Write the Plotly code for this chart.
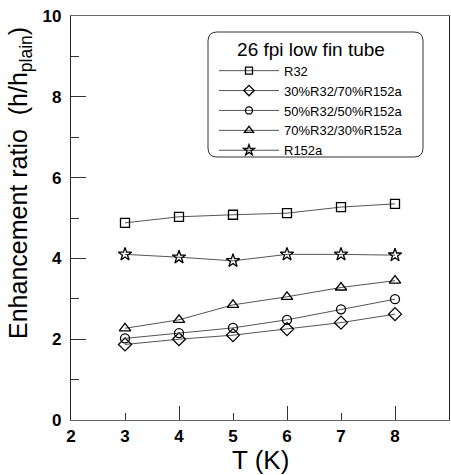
import plotly.graph_objects as go

T = [3, 4, 5, 6, 7, 8]
r32 = [4.88, 5.03, 5.08, 5.12, 5.27, 5.35]
mix_30_70 = [1.87, 2.00, 2.10, 2.25, 2.41, 2.62]
mix_50_50 = [2.02, 2.15, 2.28, 2.48, 2.74, 2.99]
mix_70_30 = [2.27, 2.48, 2.85, 3.05, 3.28, 3.45]
r152a = [4.10, 4.03, 3.94, 4.10, 4.10, 4.08]

x_ticks = [2, 3, 4, 5, 6, 7, 8, 9]
y_ticks = [0, 2, 4, 6, 8, 10]

names = ["R32", "30%R32/70%R152a", "50%R32/50%R152a", "70%R32/30%R152a", "R152a"]
series = [r32, mix_30_70, mix_50_50, mix_70_30, r152a]
symbols = ["square-open", "diamond-open", "circle-open", "triangle-up-open", "star-open"]
sizes = [9, 10, 9, 10, 10]
legend_sizes = [7, 8, 7, 8, 8]

FONT = "Liberation Sans, Arial, sans-serif"

fig = go.Figure()
for n, s, sym, sz in zip(names, series, symbols, sizes):
    fig.add_trace(go.Scatter(
        x=T, y=s, name=n, mode="lines+markers", showlegend=False,
        line=dict(color="#555555", width=1),
        marker=dict(symbol=sym, size=sz, color="black", line=dict(color="black", width=1.3)),
    ))
# legend entries with the smaller legend symbols
for n, sym, sz in zip(names, symbols, legend_sizes):
    fig.add_trace(go.Scatter(
        x=[None], y=[None], name=n, mode="lines+markers",
        line=dict(color="#555555", width=1),
        marker=dict(symbol=sym, size=sz, color="black", line=dict(color="black", width=1.3)),
    ))
# helper trace for the overlay axis carrying the long x ticks
fig.add_trace(go.Scatter(x=[], y=[], xaxis="x2", showlegend=False, hoverinfo="skip"))

W, H = 451, 475
L, R, Tm, B = 71, 2, 16, 55
pw, ph = W - L - R, H - Tm - B

def px(xp):
    return (xp - L) / pw

def py(yp):
    return (H - B - yp) / ph

# rounded legend frame
x0, x1, y0, y1 = px(208), px(423), py(157), py(32)
rx, ry = 9 / pw, 9 / ph
path = (f"M {x0+rx},{y1} L {x1-rx},{y1} Q {x1},{y1} {x1},{y1-ry} "
        f"L {x1},{y0+ry} Q {x1},{y0} {x1-rx},{y0} L {x0+rx},{y0} "
        f"Q {x0},{y0} {x0},{y0+ry} L {x0},{y1-ry} Q {x0},{y1} {x0+rx},{y1} Z")

fig.update_layout(
    width=W, height=H,
    margin=dict(l=L, r=R, t=Tm, b=B),
    plot_bgcolor="white", paper_bgcolor="white",
    font=dict(family=FONT, color="black"),
    showlegend=True,
    legend=dict(
        x=px(214), y=py(31), xanchor="left", yanchor="top",
        bgcolor="rgba(0,0,0,0)", borderwidth=0,
        title=dict(text="26 fpi low fin tube", side="top center",
                   font=dict(size=19, family=FONT)),
        font=dict(size=13, family=FONT),
        itemwidth=60, tracegroupgap=0,
    ),
    shapes=[dict(type="path", path=path, xref="paper", yref="paper",
                 line=dict(color="#333333", width=1), layer="above")],
    xaxis=dict(
        range=[2, 9], tickvals=x_ticks, ticktext=[f"<b>{v}</b>" for v in x_ticks],
        ticks="inside", ticklen=7, tickwidth=1.3,
        tickcolor="#333333", showline=True, linecolor="#666666", linewidth=1.3,
        mirror=True, showgrid=False, zeroline=False,
        tickfont=dict(size=17, family=FONT),
    ),
    xaxis2=dict(
        range=[2, 9], dtick=2, tick0=2, ticks="inside", ticklen=14, tickwidth=1.3,
        tickcolor="#333333", overlaying="x", side="bottom", anchor="y",
        showticklabels=False, showline=False, showgrid=False, zeroline=False,
    ),
    yaxis=dict(
        range=[0, 10], tickvals=y_ticks, ticktext=[f"<b>{v}</b>" for v in y_ticks],
        ticks="inside", ticklen=15, tickwidth=1.3, ticklabelstandoff=5,
        tickcolor="#333333", showline=True, linecolor="#222222", linewidth=1.3,
        mirror=True, showgrid=False, zeroline=False,
        tickfont=dict(size=17, family=FONT),
        minor=dict(dtick=1, tick0=0, ticks="inside", ticklen=8, tickwidth=1.3,
                   tickcolor="#333333", showgrid=False),
    ),
    annotations=[
        dict(text="Enhancement ratio  (h/h<sub>plain</sub>)", textangle=-90,
             xref="paper", yref="paper", x=px(20), y=py(183),
             xanchor="center", yanchor="middle", showarrow=False,
             font=dict(size=25, family=FONT)),
        dict(text="T (K)", xref="paper", yref="paper", x=px(260), y=py(460),
             xanchor="center", yanchor="middle", showarrow=False,
             font=dict(size=26, family=FONT)),
    ],
)

fig.write_html("out.html")
